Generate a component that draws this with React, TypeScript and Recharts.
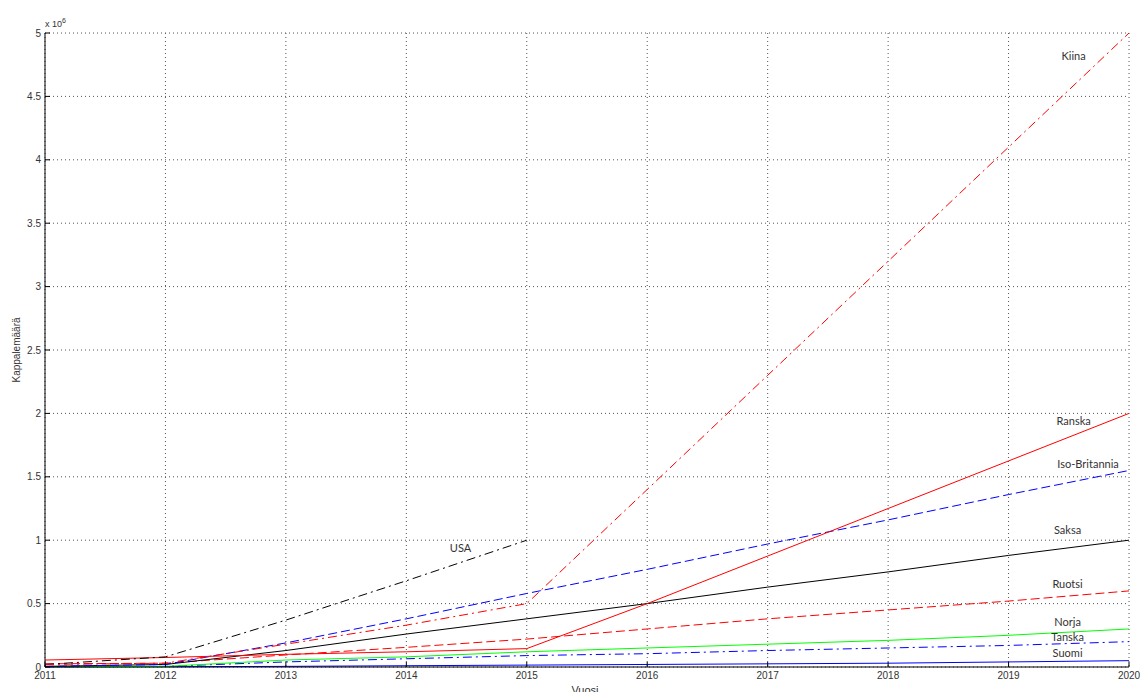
import React from 'react';
import { LineChart, Line, XAxis, YAxis, CartesianGrid, ReferenceDot } from 'recharts';

// values in millions of units (axis shows "x 10^6")
const years = [2011, 2012, 2013, 2014, 2015, 2016, 2017, 2018, 2019, 2020];
const kiina = [0.02, 0.03, 0.18, 0.33, 0.5, 1.4, 2.3, 3.2, 4.1, 5.0];
const usa = [0.02, 0.08, 0.37, 0.68, 1.0, null, null, null, null, null];
const ranska = [0.055, 0.075, 0.1, 0.12, 0.145, 0.5, 0.875, 1.25, 1.625, 2.0];
const isoBritannia = [0.005, 0.02, 0.19, 0.38, 0.58, 0.77, 0.97, 1.16, 1.36, 1.55];
const saksa = [0.005, 0.02, 0.13, 0.26, 0.38, 0.5, 0.63, 0.75, 0.88, 1.0];
const ruotsi = [0.025, 0.03, 0.095, 0.155, 0.22, 0.3, 0.38, 0.45, 0.52, 0.6];
const norja = [0.002, 0.005, 0.055, 0.08, 0.12, 0.15, 0.18, 0.21, 0.25, 0.3];
const tanska = [0.002, 0.005, 0.04, 0.065, 0.09, 0.105, 0.13, 0.15, 0.17, 0.2];
const suomi = [0.001, 0.002, 0.005, 0.01, 0.015, 0.02, 0.025, 0.03, 0.04, 0.05];

const yTicks = [0, 0.5, 1, 1.5, 2, 2.5, 3, 3.5, 4, 4.5, 5];

// text labels next to the lines, in data coordinates
const annotations = [
  { name: 'Kiina', x: 2019.54, y: 4.82 },
  { name: 'Ranska', x: 2019.54, y: 1.94 },
  { name: 'Iso-Britannia', x: 2019.66, y: 1.6 },
  { name: 'Saksa', x: 2019.49, y: 1.08 },
  { name: 'Ruotsi', x: 2019.49, y: 0.655 },
  { name: 'Norja', x: 2019.49, y: 0.355 },
  { name: 'Tanska', x: 2019.49, y: 0.237 },
  { name: 'Suomi', x: 2019.49, y: 0.11 },
  { name: 'USA', x: 2014.45, y: 0.94 },
];

const series = [
  { key: 'Suomi', values: suomi, color: '#0000ff', dash: undefined },
  { key: 'Tanska', values: tanska, color: '#0000ff', dash: '9 4 2 4' },
  { key: 'Norja', values: norja, color: '#00ff00', dash: undefined },
  { key: 'Ruotsi', values: ruotsi, color: '#ff0000', dash: '9 4' },
  { key: 'Saksa', values: saksa, color: '#000000', dash: undefined },
  { key: 'IsoBritannia', values: isoBritannia, color: '#0000ff', dash: '9 4' },
  { key: 'Ranska', values: ranska, color: '#ff0000', dash: undefined },
  { key: 'USA', values: usa, color: '#000000', dash: '9 4 2 4' },
  { key: 'Kiina', values: kiina, color: '#ff0000', dash: '9 4 2 4' },
];

const data = years.map((year, i) => {
  const row: { [k: string]: number | null } = { year };
  series.forEach((s) => {
    row[s.key] = s.values[i];
  });
  return row;
});

const tickStyle = { fontFamily: 'Liberation Sans, Arial, sans-serif', fontSize: 10, fill: '#333' };

const App: React.FC = () => {
  return (
    <div style={{ position: 'absolute', left: 0, top: 0, width: 1143, height: 692, background: '#fff' }}>
      <LineChart width={1143} height={692} data={data} margin={{ top: 33, right: 14, bottom: 0, left: 0 }}>
        <CartesianGrid stroke="#555" strokeDasharray="1 3" />
        <XAxis
          dataKey="year"
          type="number"
          domain={[2011, 2020]}
          ticks={years}
          height={25}
          tickSize={-5}
          tickMargin={10}
          stroke="#000"
          tick={tickStyle}
          interval={0}
        />
        <YAxis
          type="number"
          domain={[0, 5]}
          ticks={yTicks}
          width={45}
          tickSize={-5}
          tickMargin={9}
          stroke="#000"
          tick={tickStyle}
          interval={0}
        />
        {series.map((s) => (
          <Line
            key={s.key}
            dataKey={s.key}
            type="linear"
            stroke={s.color}
            strokeWidth={1}
            strokeDasharray={s.dash}
            dot={false}
            activeDot={false}
            isAnimationActive={false}
          />
        ))}
        {annotations.map((a) => (
          <ReferenceDot
            key={a.name}
            x={a.x}
            y={a.y}
            r={0}
            stroke="none"
            fill="none"
            label={{ value: a.name, position: 'center', fill: '#333', fontSize: 11, fontFamily: 'Lato, sans-serif' }}
          />
        ))}
      </LineChart>
      <div style={{ position: 'absolute', left: 45, top: 17, fontFamily: 'Liberation Sans, Arial, sans-serif', fontSize: 9, color: '#333' }}>
        x 10<sup style={{ fontSize: 7 }}>6</sup>
      </div>
      <div
        style={{
          position: 'absolute',
          left: 16,
          top: 350,
          transform: 'translate(-50%, -50%) rotate(-90deg)',
          fontFamily: 'Liberation Sans, Arial, sans-serif',
          fontSize: 10,
          color: '#333',
          whiteSpace: 'nowrap',
        }}
      >
        Kappalemäärä
      </div>
      <div
        style={{
          position: 'absolute',
          left: 585,
          top: 684,
          transform: 'translateX(-50%)',
          fontFamily: 'Liberation Sans, Arial, sans-serif',
          fontSize: 11,
          color: '#333',
        }}
      >
        Vuosi
      </div>
    </div>
  );
};

export default App;
